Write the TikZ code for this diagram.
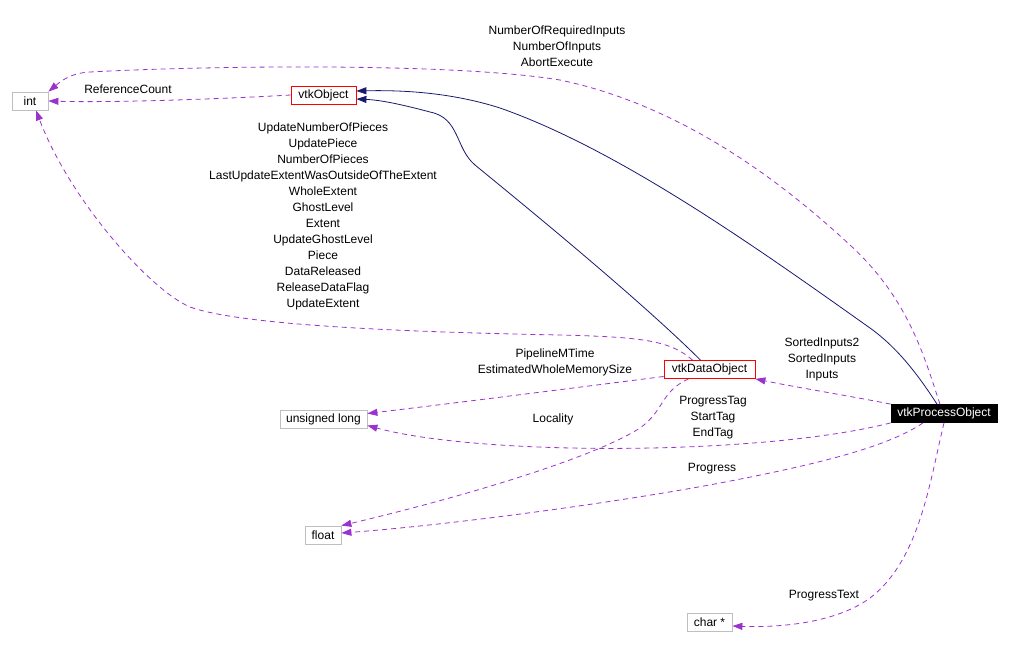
\documentclass[tikz,border=0pt]{standalone}
\usepackage{fontspec}
\setmainfont{Liberation Sans}
\usetikzlibrary{arrows.meta}
\definecolor{boxgray}{HTML}{BFBFBF}
\definecolor{usepurple}{HTML}{9A32CD}
\definecolor{inhnavy}{HTML}{191970}
\begin{document}
\begin{tikzpicture}[x=1pt,y=-1pt,
  every node/.style={font=\fontsize{12}{16}\selectfont},
  cls/.style={draw=boxgray,line width=0.8pt,minimum height=18pt,inner xsep=2pt,inner ysep=0pt},
  hlcls/.style={cls,draw=red},
  maincls/.style={cls,draw=black,fill=black,text=white},
  member/.style={draw=usepurple,line width=0.8pt,dash pattern=on 5pt off 4pt,
    -{Triangle[length=10pt,width=7pt]}},
  baseedge/.style={draw=inhnavy,line width=0.8pt,-{Triangle[length=10pt,width=7pt]}},
  lbl/.style={align=center,inner sep=0pt}]
  \useasboundingbox (0,0) rectangle (1010,649);
  % classes
  \node[cls,minimum width=36pt] (int) at (30,101) {int};
  \node[hlcls,minimum width=65pt] (vtkObject) at (323.5,95) {vtkObject};
  \node[hlcls,minimum width=91pt] (vtkDataObject) at (709.5,369.5) {vtkDataObject};
  \node[maincls,minimum width=106pt] (vtkProcessObject) at (944,413.5) {vtkProcessObject};
  \node[cls,minimum width=87pt] (ulong) at (323.5,419.5) {unsigned long};
  \node[cls,minimum width=36pt] (float) at (323,535) {float};
  \node[cls,minimum width=45pt] (charptr) at (709.5,622) {char *};
  % base classes
  \draw[baseedge] ([xshift=-9pt]vtkDataObject.north) .. controls (640,300) and (530,210) .. (475,165)
    .. controls (455,148) and (460,118) .. (430,112)
    .. controls (400,104) and (380,100) .. ([yshift=-4pt]vtkObject.east);
  \draw[baseedge] ([xshift=-7pt]vtkProcessObject.north) .. controls (915,370) and (895,346) .. (870,328)
    .. controls (760,250) and (620,150) .. (500,108)
    .. controls (450,92) and (400,90) .. ([yshift=4pt]vtkObject.east);
  % members
  \draw[member] (vtkObject.west) .. controls (240,98) and (120,103) .. (int.east);
  \node[lbl] (lblrefcount) at (128,89.5) {ReferenceCount};
  \draw[member] ([xshift=-4pt]vtkProcessObject.north) .. controls (925,360) and (910,300) .. (850,245)
    .. controls (780,180) and (680,105) .. (560,80)
    .. controls (450,62) and (200,66) .. (90,72)
    .. controls (70,73) and (60,82) .. (int.north east);
  \node[lbl] (lblinputs) at (557,46.5) {NumberOfRequiredInputs\\NumberOfInputs\\AbortExecute};
  \draw[member] ([xshift=-17pt]vtkDataObject.north) .. controls (670,340) and (640,337) .. (560,335)
    .. controls (400,332) and (240,325) .. (190,307)
    .. controls (150,290) and (70,200) .. ([xshift=6pt]int.south);
  \node[lbl] (lblextent) at (323,216.5) {UpdateNumberOfPieces\\UpdatePiece\\NumberOfPieces\\
    LastUpdateExtentWasOutsideOfTheExtent\\WholeExtent\\GhostLevel\\Extent\\UpdateGhostLevel\\
    Piece\\DataReleased\\ReleaseDataFlag\\UpdateExtent};
  \draw[member] ([yshift=-7pt]vtkDataObject.west) .. controls (620,382) and (480,400) .. ([yshift=6pt]ulong.east);
  \node[lbl] (lblmtime) at (555,362.5) {PipelineMTime\\EstimatedWholeMemorySize};
  \draw[member] (vtkProcessObject.south west) .. controls (760,456) and (480,456) .. ([yshift=-6pt]ulong.east);
  \node[lbl] (lbllocality) at (553,419) {Locality};
  \draw[member] ([xshift=-21pt]vtkDataObject.south) .. controls (660,392) and (665,410) .. (640,428)
    .. controls (590,460) and (450,500) .. (float.north east);
  \node[lbl] (lbltags) at (713,417.5) {ProgressTag\\StartTag\\EndTag};
  \draw[member] ([xshift=-21pt]vtkProcessObject.south) .. controls (890,445) and (830,462) .. (720,483)
    .. controls (620,502) and (450,525) .. ([yshift=2pt]float.east);
  \node[lbl] (lblprogress) at (712,469) {Progress};
  \draw[member] (vtkProcessObject.north west) .. controls (850,396) and (800,388) .. (vtkDataObject.south east);
  \node[lbl] (lblsorted) at (822,359) {SortedInputs2\\SortedInputs\\Inputs};
  \draw[member] (vtkProcessObject.south) .. controls (930,480) and (920,560) .. (870,598)
    .. controls (840,620) and (790,628) .. ([yshift=-4pt]charptr.east);
  \node[lbl] (lblprogtext) at (824,596) {ProgressText};
\end{tikzpicture}
\end{document}
